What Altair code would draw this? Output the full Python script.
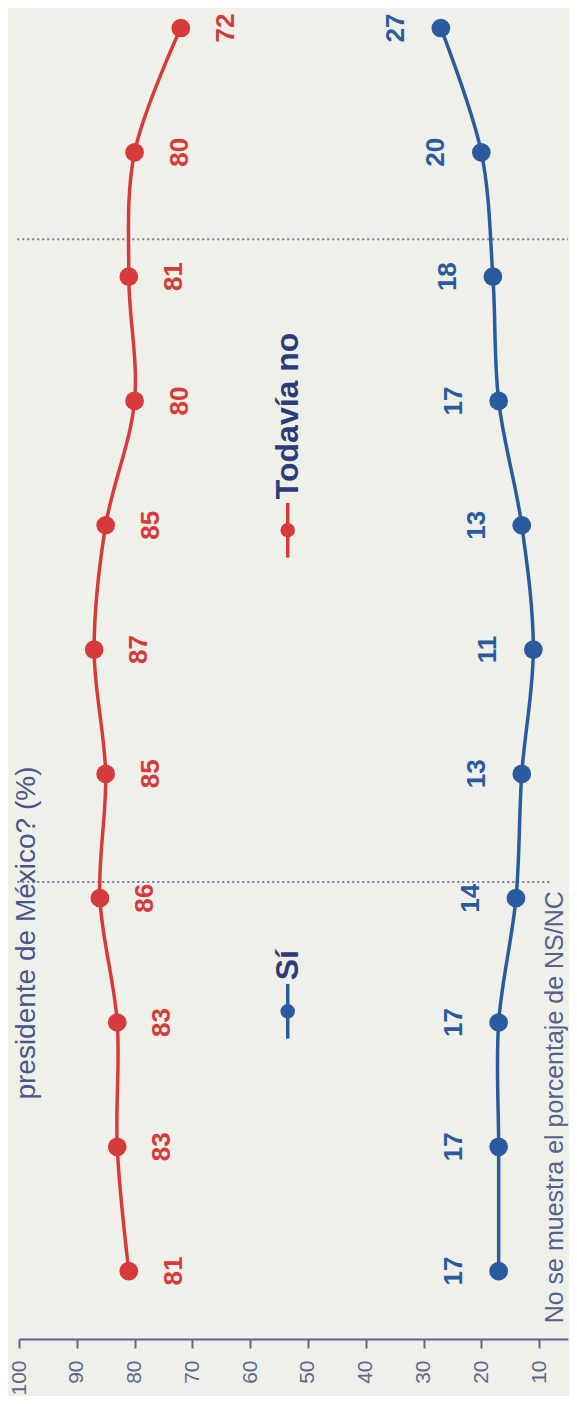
import altair as alt
import pandas as pd

# ---- data (surveys in time order, earliest first) ----
surveys = list(range(11))
todavia_no = [81, 83, 83, 86, 85, 87, 85, 80, 81, 80, 72]
si = [17, 17, 17, 14, 13, 11, 13, 17, 18, 20, 27]
event_marks = [3.13, 8.30]          # dotted separators, in survey-index units
tick_values = [10, 20, 30, 40, 50, 60, 70, 80, 90, 100]
series_names = ["Todavía no", "Sí"]
series_colors = ["#d63a3a", "#2a5b9e"]
title_text = "presidente de México? (%)"
note_text = "No se muestra el porcentaje de NS/NC"

rows = []
for name, vals in zip(series_names, [todavia_no, si]):
    for i, v in zip(surveys, vals):
        rows.append({"idx": i, "val": v, "serie": name})
df = pd.DataFrame(rows)

# ---- layout / style constants (value units on x, survey-index units on y) ----
FONT = "Liberation Sans"
NAVY = "#2e3b7a"
AXIS_C = "#5a6891"
LABEL_SHIFT = 7.8
LEG_X = 53.5
LEG_POS = {"Sí": 2.09, "Todavía no": 5.96}
LEG_HALF = 0.22

xs = alt.Scale(domain=[5, 100], reverse=True, nice=False, zero=False)
ys = alt.Scale(domain=[-0.546, 10.161], nice=False, zero=False)
col = alt.Color("serie:N", scale=alt.Scale(domain=series_names, range=series_colors), legend=None)

xaxis = alt.Axis(values=tick_values, labelAngle=270, tickSize=9, tickWidth=2,
                 domainWidth=2, domainColor=AXIS_C, tickColor=AXIS_C,
                 labelColor="#5f6889", labelFontSize=21, labelFont=FONT,
                 labelPadding=12, labelFlush=False, grid=False, title=None)

base = alt.Chart(df).encode(
    x=alt.X("val:Q", scale=xs, axis=xaxis),
    y=alt.Y("idx:Q", scale=ys, axis=None),
    color=col,
)

lines = base.mark_line(interpolate="catmull-rom", strokeWidth=3.5).encode(order=alt.Order("idx:Q"))
points = base.mark_circle(size=350, opacity=1)

labels = alt.Chart(df).transform_calculate(
    lx=f"datum.serie === '{series_names[0]}' ? datum.val - {LABEL_SHIFT} : datum.val + {LABEL_SHIFT}"
).mark_text(angle=270, fontSize=26, fontWeight="bold", font=FONT,
            align="center", baseline="middle").encode(
    x=alt.X("lx:Q", scale=xs),
    y=alt.Y("idx:Q", scale=ys, axis=None),
    color=col,
    text="val:Q",
)

rule_style = dict(strokeDash=[2, 3], strokeWidth=2, color="#737c9c")
rule_low = alt.Chart(pd.DataFrame({"pos": [event_marks[0]]})).mark_rule(**rule_style).encode(
    y=alt.Y("pos:Q", scale=ys, axis=None), x=alt.datum(100.3), x2=alt.datum(8))
rule_high = alt.Chart(pd.DataFrame({"pos": [event_marks[1]]})).mark_rule(**rule_style).encode(
    y=alt.Y("pos:Q", scale=ys, axis=None), x=alt.datum(100.3), x2=alt.datum(5))


def legend_entry(name, color):
    cy = LEG_POS[name]
    one = alt.Chart(pd.DataFrame({"t": [name]}))
    seg = one.mark_rule(strokeWidth=3.5, color=color).encode(
        x=alt.datum(LEG_X), y=alt.datum(cy - LEG_HALF), y2=alt.datum(cy + LEG_HALF))
    dot = one.mark_circle(size=210, opacity=1, color=color).encode(
        x=alt.datum(LEG_X), y=alt.datum(cy))
    txt = one.mark_text(angle=270, align="left", baseline="middle", fontSize=32,
                        fontWeight="bold", font=FONT, color=NAVY).encode(
        x=alt.datum(LEG_X), y=alt.datum(cy + LEG_HALF + 0.03), text="t:N")
    return [seg, dot, txt]


note = alt.Chart(pd.DataFrame({"t": [note_text]})).mark_text(
    angle=270, align="left", baseline="middle", fontSize=25, font=FONT, color="#56618c"
).encode(x=alt.datum(7.3), y=alt.datum(-0.42), text="t:N")

title = alt.Chart(pd.DataFrame({"t": [title_text]})).mark_text(
    angle=270, align="left", baseline="alphabetic", fontSize=28, font=FONT, color="#4a5689"
).encode(x=alt.datum(97.2), y=alt.datum(1.38), text="t:N")

layers = ([rule_low, rule_high, lines, points, labels]
          + legend_entry(series_names[1], series_colors[1])
          + legend_entry(series_names[0], series_colors[0])
          + [note, title])

chart = alt.layer(*layers).properties(
    width=561, height=1388,
    autosize=alt.AutoSizeParams(type="fit", contains="padding"),
    padding=0,
    background="#eff0ea",
).configure_view(strokeWidth=0)

chart.save("out.html", embed_options={"renderer": "svg", "actions": False})
